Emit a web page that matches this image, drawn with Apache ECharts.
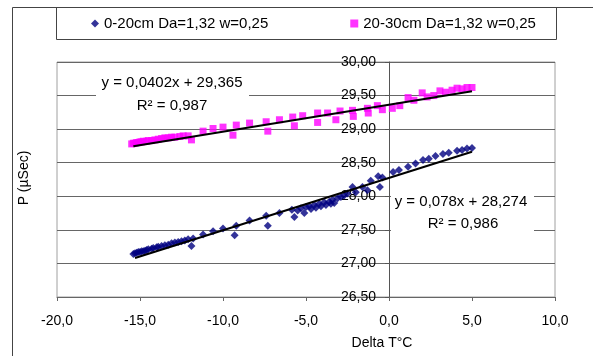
<!DOCTYPE html>
<html>
<head>
<meta charset="utf-8">
<script src="https://cdn.jsdelivr.net/npm/echarts@6/dist/echarts.min.js"></script>
<style>
html,body{margin:0;padding:0;background:#fff;}
#c{width:593px;height:356px;}
</style>
</head>
<body>
<div id="c"></div>
<script>
// ---- data ----
const seriesNames = ['0-20cm Da=1,32 w=0,25', '20-30cm Da=1,32 w=0,25'];
const s1X = [-15.4,-15.3,-15.2,-15.1,-15.0,-14.9,-14.8,-14.7,-14.6,-14.5,-14.3,-14.2,-14.0,-13.9,-13.7,-13.5,-13.3,-13.1,-12.9,-12.7,-12.5,-12.3,-12.1,-11.9,-11.8,-11.2,-10.6,-10.0,-9.3,-9.2,-8.4,-7.4,-7.3,-6.6,-5.85,-5.7,-5.5,-5.3,-5.1,-5.0,-4.8,-4.7,-4.5,-4.4,-4.2,-4.1,-3.9,-3.8,-3.6,-3.5,-3.4,-3.3,-3.1,-2.9,-2.7,-2.5,-2.2,-2.0,-1.6,-1.3,-1.1,-0.65,-0.55,-0.4,0.25,0.6,1.15,1.6,2.05,2.4,2.8,3.25,3.6,4.1,4.4,4.7,5.0];
const s1Y = [27.14,27.15,27.16,27.17,27.17,27.18,27.18,27.19,27.20,27.21,27.22,27.23,27.24,27.25,27.26,27.27,27.28,27.30,27.31,27.32,27.33,27.34,27.36,27.26,27.37,27.43,27.48,27.52,27.42,27.56,27.64,27.71,27.56,27.75,27.80,27.69,27.79,27.82,27.75,27.84,27.85,27.81,27.87,27.83,27.89,27.85,27.91,27.87,27.92,27.89,27.95,27.90,27.97,27.99,28.01,28.04,28.14,28.06,28.14,28.09,28.23,28.30,28.14,28.28,28.36,28.39,28.44,28.49,28.54,28.56,28.60,28.63,28.65,28.68,28.69,28.71,28.72];
const s2X = [-15.5,-15.4,-15.3,-15.2,-15.1,-15.0,-14.9,-14.8,-14.6,-14.5,-14.3,-14.1,-13.9,-13.7,-13.5,-13.3,-13.1,-12.9,-12.6,-12.4,-12.1,-11.9,-11.2,-10.6,-10.0,-9.4,-9.2,-8.4,-7.4,-7.3,-6.6,-5.8,-5.7,-5.2,-4.3,-4.3,-3.7,-3.2,-2.95,-2.2,-2.15,-1.3,-1.25,-0.7,-0.4,0.2,0.65,1.15,1.5,2.0,2.3,2.7,3.07,3.4,3.8,4.1,4.4,4.7,5.0];
const s2Y = [28.78,28.79,28.79,28.80,28.80,28.81,28.81,28.82,28.82,28.83,28.83,28.84,28.85,28.86,28.87,28.87,28.88,28.88,28.89,28.90,28.90,28.84,28.97,29.01,29.03,28.91,29.06,29.09,29.11,28.97,29.14,29.18,29.05,29.20,29.24,29.10,29.24,29.14,29.27,29.28,29.19,29.31,29.24,29.35,29.29,29.31,29.35,29.47,29.43,29.54,29.48,29.50,29.57,29.55,29.58,29.61,29.60,29.62,29.62];
// trendlines (from the chart's equations)
const trend1 = {slope: 0.078, intercept: 28.274, xFrom: -15.3, xTo: 5.0};
const trend2 = {slope: 0.0402, intercept: 29.365, xFrom: -15.4, xTo: 5.0};
const eq1 = ['y = 0,078x + 28,274', 'R² = 0,986'];
const eq2 = ['y = 0,0402x + 29,365', 'R² = 0,987'];
const xTitle = 'Delta T°C';
const yTitle = 'P (µSec)';

const zip = (a, b) => a.map((v, i) => [v, b[i]]);
const line = t => [[t.xFrom, t.intercept + t.slope * t.xFrom], [t.xTo, t.intercept + t.slope * t.xTo]];
const FONT = 'Arial, "Liberation Sans", sans-serif';

const chart = echarts.init(document.getElementById('c'), null, {renderer: 'canvas'});
chart.setOption({
  animation: false,
  backgroundColor: '#fff',
  textStyle: {fontFamily: FONT},
  grid: {left: 57, right: 38, top: 62, bottom: 59, show: true, borderColor: '#a0a0a0', borderWidth: 1, backgroundColor: 'transparent'},
  legend: {
    left: 91, top: 16, itemWidth: 8, itemHeight: 8, itemGap: 82, padding: 0,
    textStyle: {fontSize: 15, color: '#000', fontFamily: FONT},
    data: [{name: seriesNames[0], icon: 'diamond'}, {name: seriesNames[1], icon: 'rect'}]
  },
  xAxis: {
    type: 'value', min: -20, max: 10, interval: 5,
    axisLine: {onZero: false, lineStyle: {color: '#666', width: 1}},
    axisTick: {show: true, length: 4, lineStyle: {color: '#666'}},
    axisLabel: {color: '#000', fontSize: 14, margin: 17, formatter: v => v.toFixed(1).replace('.', ',')},
    splitLine: {show: false}
  },
  yAxis: {
    type: 'value', min: 26.5, max: 30, interval: 0.5, position: 'left', offset: -332,
    axisLine: {show: true, onZero: false, lineStyle: {color: '#555', width: 1}},
    axisTick: {show: true, length: 4, lineStyle: {color: '#555'}},
    axisLabel: {color: '#000', fontSize: 14, margin: 13, formatter: v => v.toFixed(2).replace('.', ',')},
    splitLine: {show: true, lineStyle: {color: '#666', width: 1}}
  },
  graphic: [
    {type: 'rect', shape: {x: 12.5, y: 7.5, width: 700, height: 400}, style: {fill: 'none', stroke: '#444', lineWidth: 1}, z: 1, silent: true},
    {type: 'rect', shape: {x: 56.5, y: 7.5, width: 500, height: 32}, style: {fill: '#fff', stroke: '#444', lineWidth: 1}, z: -1, silent: true},
    {type: 'rect', shape: {x: 96, y: 72, width: 153, height: 44}, style: {fill: '#fff'}, z: 5, silent: true},
    {type: 'text', x: 172, y: 83, z: 6, style: {text: eq2[0], font: '15px ' + FONT, fill: '#000', align: 'center', verticalAlign: 'middle'}},
    {type: 'text', x: 172, y: 106, z: 6, style: {text: eq2[1], font: '15px ' + FONT, fill: '#000', align: 'center', verticalAlign: 'middle'}},
    {type: 'rect', shape: {x: 391, y: 190, width: 143, height: 46}, style: {fill: '#fff'}, z: 5, silent: true},
    {type: 'text', x: 461, y: 202, z: 6, style: {text: eq1[0], font: '15px ' + FONT, fill: '#000', align: 'center', verticalAlign: 'middle'}},
    {type: 'text', x: 463, y: 224, z: 6, style: {text: eq1[1], font: '15px ' + FONT, fill: '#000', align: 'center', verticalAlign: 'middle'}},
    {type: 'text', x: 382, y: 343, z: 6, style: {text: xTitle, font: '14px ' + FONT, fill: '#000', align: 'center', verticalAlign: 'middle'}},
    {type: 'text', x: 24, y: 178, rotation: Math.PI / 2, z: 6, style: {text: yTitle, font: '14px ' + FONT, fill: '#000', align: 'center', verticalAlign: 'middle'}}
  ],
  series: [
    {name: seriesNames[0], type: 'scatter', symbol: 'diamond', symbolSize: 8, itemStyle: {color: '#000080'}, data: zip(s1X, s1Y), z: 3},
    {name: seriesNames[1], type: 'scatter', symbol: 'rect', symbolSize: 7, itemStyle: {color: '#ff00ff'}, data: zip(s2X, s2Y), z: 3},
    {type: 'line', data: line(trend1), symbol: 'none', lineStyle: {color: '#000', width: 2}, z: 4, silent: true},
    {type: 'line', data: line(trend2), symbol: 'none', lineStyle: {color: '#000', width: 2}, z: 4, silent: true}
  ]
});
</script>
</body>
</html>
